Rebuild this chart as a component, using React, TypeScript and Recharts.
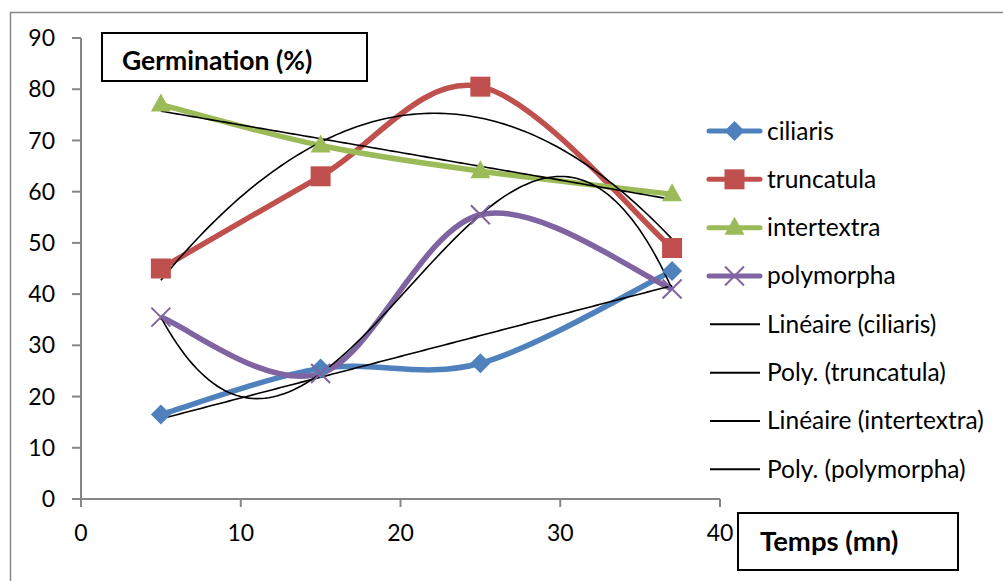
import React from 'react';
import { LineChart, Line, XAxis, YAxis, Legend } from 'recharts';

const TEMPS = [5, 15, 25, 37];
const CILIARIS = [16.5, 25.5, 26.5, 44.5];
const TRUNCATULA = [45, 63, 80.5, 49];
const INTERTEXTRA = [77, 69, 64, 59.5];
const POLYMORPHA = [35.5, 24.5, 55.5, 41];

const X_TICKS = [0, 10, 20, 30, 40];
const Y_TICKS = [0, 10, 20, 30, 40, 50, 60, 70, 80, 90];

const SERIES = [
  { key: 'ciliaris', values: CILIARIS, color: '#4F81BD', marker: 'diamond' },
  { key: 'truncatula', values: TRUNCATULA, color: '#C0504D', marker: 'square' },
  { key: 'intertextra', values: INTERTEXTRA, color: '#9BBB59', marker: 'triangle' },
  { key: 'polymorpha', values: POLYMORPHA, color: '#8064A2', marker: 'cross' },
];

// Excel trendlines: linear or polynomial of given order
const TRENDS = [
  { key: 'ciliaris', values: CILIARIS, order: 1, name: 'Linéaire (ciliaris)' },
  { key: 'truncatula', values: TRUNCATULA, order: 2, name: 'Poly. (truncatula)' },
  { key: 'intertextra', values: INTERTEXTRA, order: 1, name: 'Linéaire (intertextra)' },
  { key: 'polymorpha', values: POLYMORPHA, order: 3, name: 'Poly. (polymorpha)' },
];

const LEGEND_ORDER = [...SERIES.map((s) => s.key), ...TRENDS.map((t) => t.name)];

const FONT = 'Lato, "Liberation Sans", sans-serif';
const AXIS = '#868686';

const data = TEMPS.map((x, i) => ({
  x,
  ciliaris: CILIARIS[i],
  truncatula: TRUNCATULA[i],
  intertextra: INTERTEXTRA[i],
  polymorpha: POLYMORPHA[i],
}));

// least squares polynomial fit (what Excel does for its trendlines)
const polyFit = (xs: number[], ys: number[], order: number) => {
  const n = order + 1;
  const A = Array.from({ length: n }, () => new Array(n + 1).fill(0));
  for (let r = 0; r < n; r++) {
    for (let c = 0; c < n; c++) A[r][c] = xs.reduce((s, x) => s + Math.pow(x, r + c), 0);
    A[r][n] = xs.reduce((s, x, i) => s + ys[i] * Math.pow(x, r), 0);
  }
  for (let i = 0; i < n; i++) {
    let p = i;
    for (let k = i + 1; k < n; k++) if (Math.abs(A[k][i]) > Math.abs(A[p][i])) p = k;
    [A[i], A[p]] = [A[p], A[i]];
    for (let k = i + 1; k < n; k++) {
      const f = A[k][i] / A[i][i];
      for (let j = i; j <= n; j++) A[k][j] -= f * A[i][j];
    }
  }
  const coef = new Array(n).fill(0);
  for (let i = n - 1; i >= 0; i--) {
    let s = A[i][n];
    for (let j = i + 1; j < n; j++) s -= A[i][j] * coef[j];
    coef[i] = s / A[i][i];
  }
  return coef;
};

const trendData = (values: number[], order: number) => {
  const coef = polyFit(TEMPS, values, order);
  const out: { x: number; y: number }[] = [];
  const x0 = TEMPS[0];
  const x1 = TEMPS[TEMPS.length - 1];
  for (let x = x0; x <= x1 + 1e-9; x += 0.25) {
    out.push({ x, y: coef.reduce((s, c, k) => s + c * Math.pow(x, k), 0) });
  }
  return out;
};

// Excel-like smoothed line (bezier, 1/6 tangents)
const excelSmooth = (context: any) => {
  let pts: number[][] = [];
  return {
    areaStart() {},
    areaEnd() {},
    lineStart() {
      pts = [];
    },
    lineEnd() {
      const n = pts.length;
      if (!n) return;
      context.moveTo(pts[0][0], pts[0][1]);
      for (let i = 0; i < n - 1; i++) {
        const p0 = pts[Math.max(i - 1, 0)];
        const p1 = pts[i];
        const p2 = pts[i + 1];
        const p3 = pts[Math.min(i + 2, n - 1)];
        context.bezierCurveTo(
          p1[0] + (p2[0] - p0[0]) / 6,
          p1[1] + (p2[1] - p0[1]) / 6,
          p2[0] - (p3[0] - p1[0]) / 6,
          p2[1] - (p3[1] - p1[1]) / 6,
          p2[0],
          p2[1]
        );
      }
    },
    point(x: number, y: number) {
      pts.push([+x, +y]);
    },
  };
};

const Marker = ({ cx, cy, kind, color }: any) => {
  if (cx == null || cy == null) return null;
  if (kind === 'diamond') {
    const r = 10;
    return <path d={`M${cx},${cy - r}L${cx + r},${cy}L${cx},${cy + r}L${cx - r},${cy}Z`} fill={color} />;
  }
  if (kind === 'square') {
    return <rect x={cx - 10} y={cy - 10} width={20} height={20} fill={color} />;
  }
  if (kind === 'triangle') {
    return <path d={`M${cx},${cy - 11}L${cx + 10},${cy + 7}L${cx - 10},${cy + 7}Z`} fill={color} />;
  }
  const r = 9.5;
  return (
    <path
      d={`M${cx - r},${cy - r}L${cx + r},${cy + r}M${cx - r},${cy + r}L${cx + r},${cy - r}`}
      stroke={color}
      strokeWidth={2}
      fill="none"
    />
  );
};

const renderLegend = (props: any) => {
  const payload = [...(props.payload || [])].sort(
    (a: any, b: any) => LEGEND_ORDER.indexOf(a.value) - LEGEND_ORDER.indexOf(b.value)
  );
  return (
    <svg width={300} height={400} style={{ display: 'block', overflow: 'visible' }}>
      {payload.map((entry: any, i: number) => {
        const y = 31 + i * 48.33;
        const s = SERIES.find((d) => d.key === entry.value);
        return (
          <g key={`leg-${i}`}>
            {s ? (
              <g>
                <line x1={9} x2={60} y1={y} y2={y} stroke={s.color} strokeWidth={5} strokeLinecap="round" />
                <Marker cx={34.5} cy={y} kind={s.marker} color={s.color} />
              </g>
            ) : (
              <line x1={10} x2={60} y1={y} y2={y} stroke="#000" strokeWidth={2} />
            )}
            <text x={67} y={y + 8.5} fontFamily={FONT} fontSize={24.5} fill="#000">
              {entry.value}
            </text>
          </g>
        );
      })}
    </svg>
  );
};

export default function App() {
  return (
    <div style={{ position: 'absolute', left: 0, top: 0, width: 1003, height: 581, background: '#fff', fontFamily: FONT }}>
      <LineChart width={1003} height={581} data={data} margin={{ top: 38, right: 283, bottom: 37, left: 11 }}>
        <XAxis
          type="number"
          dataKey="x"
          domain={[0, 40]}
          ticks={X_TICKS}
          height={45}
          stroke={AXIS}
          strokeWidth={2}
          tickSize={8}
          tickMargin={18}
          tick={{ fill: '#000', fontSize: 23, fontFamily: FONT }}
        />
        <YAxis
          type="number"
          domain={[0, 90]}
          ticks={Y_TICKS}
          width={70}
          stroke={AXIS}
          strokeWidth={2}
          tickSize={9}
          tickMargin={17}
          tick={{ fill: '#000', fontSize: 23, fontFamily: FONT }}
        />
        <Legend
          layout="vertical"
          align="center"
          verticalAlign="middle"
          wrapperStyle={{ left: 700, top: 100, width: 300 }}
          content={renderLegend}
        />
        {SERIES.map((s) => (
          <Line
            key={s.key}
            dataKey={s.key}
            name={s.key}
            type={excelSmooth as any}
            stroke={s.color}
            strokeWidth={5.5}
            dot={(p: any) => <Marker key={`${s.key}-${p.index}`} cx={p.cx} cy={p.cy} kind={s.marker} color={s.color} />}
            activeDot={false}
            isAnimationActive={false}
          />
        ))}
        {TRENDS.map((t) => (
          <Line
            key={`trend-${t.key}`}
            data={trendData(t.values, t.order)}
            dataKey="y"
            name={t.name}
            type="linear"
            stroke="#000"
            strokeWidth={1.6}
            dot={false}
            activeDot={false}
            isAnimationActive={false}
          />
        ))}
      </LineChart>
      <svg width={1003} height={581} style={{ position: 'absolute', left: 0, top: 0, pointerEvents: 'none' }}>
        <path d="M10.5,581 L10.5,12.5 L1003,12.5" stroke="#878787" strokeWidth={1.5} fill="none" />
        <rect x={102} y={33} width={265} height={48} fill="#fff" stroke="#000" strokeWidth={2} />
        <text x={122} y={70} fontFamily={FONT} fontWeight="bold" fontSize={26.5} fill="#000">
          Germination (%)
        </text>
        <rect x={738} y={513} width={220} height={57} fill="#fff" stroke="#000" strokeWidth={2} />
        <text x={760} y={551} fontFamily={FONT} fontWeight="bold" fontSize={27.5} fill="#000">
          Temps (mn)
        </text>
      </svg>
    </div>
  );
}
